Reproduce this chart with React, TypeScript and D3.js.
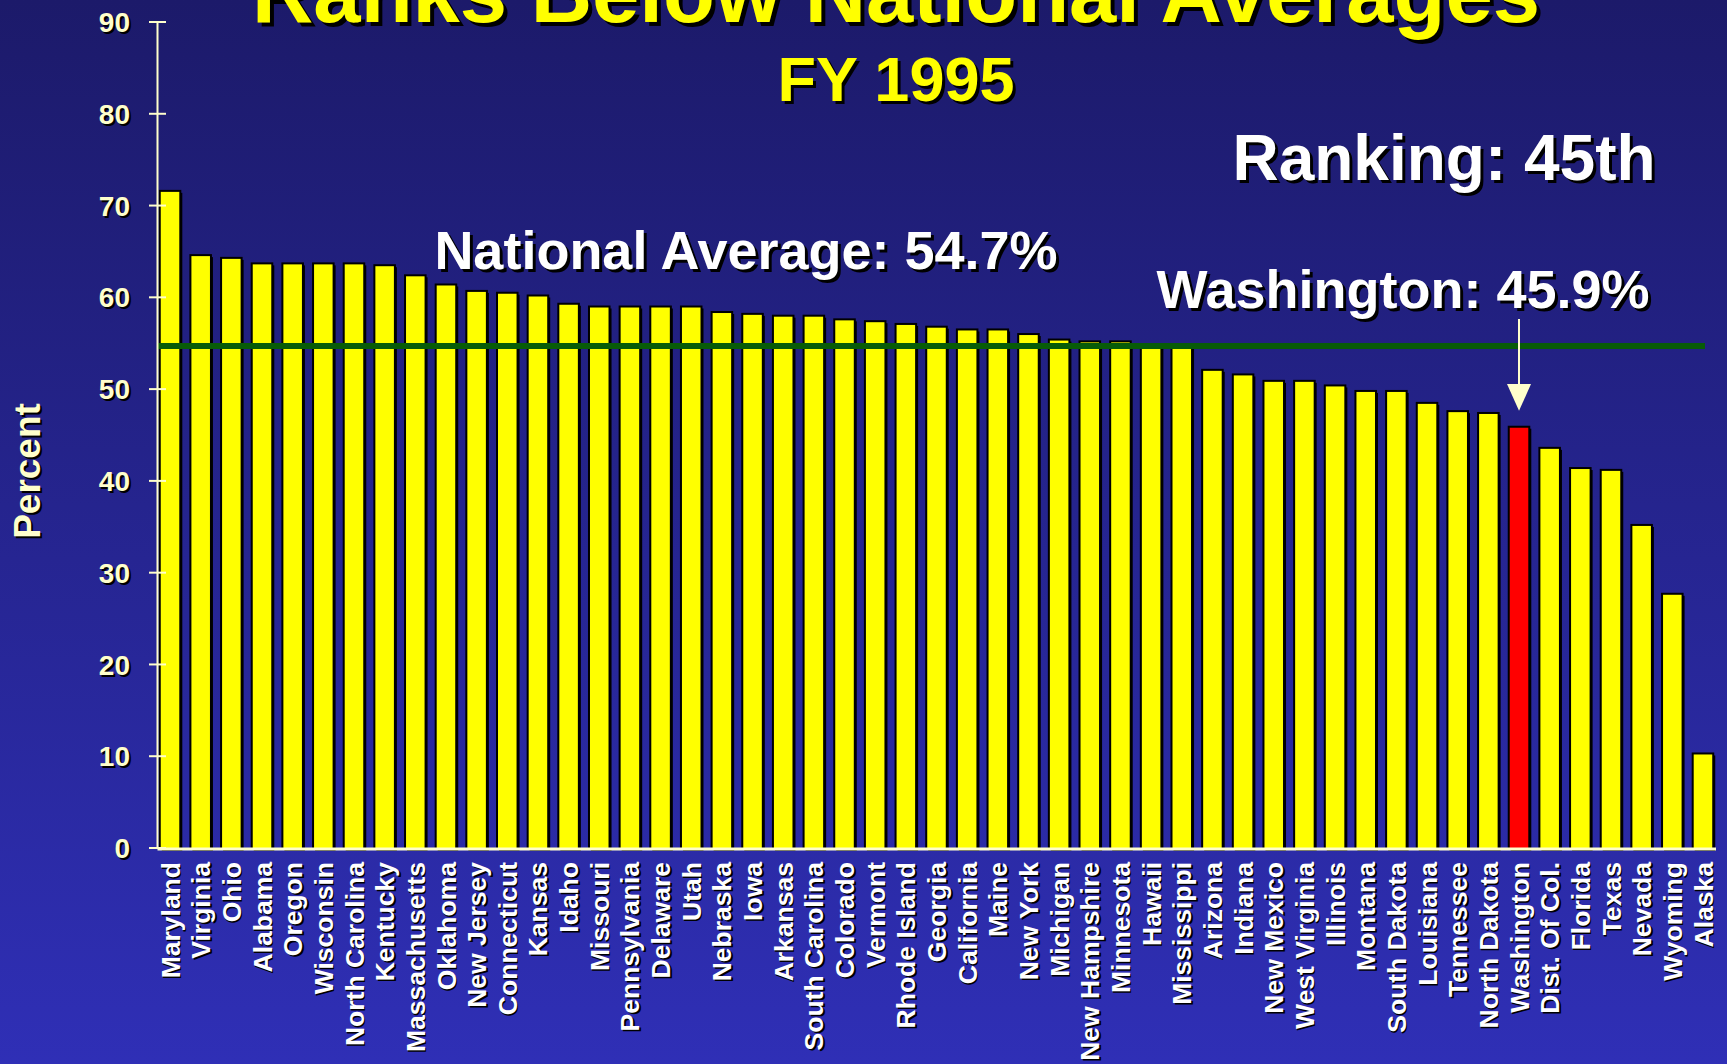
import React from 'react';
import * as d3 from 'd3';

const states = [
  'Maryland', 'Virginia', 'Ohio', 'Alabama', 'Oregon', 'Wisconsin', 'North Carolina', 'Kentucky',
  'Massachusetts', 'Oklahoma', 'New Jersey', 'Connecticut', 'Kansas', 'Idaho', 'Missouri',
  'Pennsylvania', 'Delaware', 'Utah', 'Nebraska', 'Iowa', 'Arkansas', 'South Carolina', 'Colorado',
  'Vermont', 'Rhode Island', 'Georgia', 'California', 'Maine', 'New York', 'Michigan',
  'New Hampshire', 'Minnesota', 'Hawaii', 'Mississippi', 'Arizona', 'Indiana', 'New Mexico',
  'West Virginia', 'Illinois', 'Montana', 'South Dakota', 'Louisiana', 'Tennessee', 'North Dakota',
  'Washington', 'Dist. Of Col.', 'Florida', 'Texas', 'Nevada', 'Wyoming', 'Alaska',
];

const percents = [
  71.6, 64.6, 64.3, 63.7, 63.7, 63.7, 63.7, 63.5,
  62.4, 61.4, 60.7, 60.5, 60.2, 59.3, 59.0,
  59.0, 59.0, 59.0, 58.4, 58.2, 58.0, 58.0, 57.6,
  57.4, 57.1, 56.8, 56.5, 56.5, 56.0, 55.4,
  55.2, 55.2, 54.7, 54.6, 52.1, 51.6, 50.9,
  50.9, 50.4, 49.8, 49.8, 48.5, 47.6, 47.4,
  45.9, 43.6, 41.4, 41.2, 35.2, 27.7, 10.3,
];

const yTickValues = [0, 10, 20, 30, 40, 50, 60, 70, 80, 90];
const nationalAverage = 54.7;
const highlightState = 'Washington';

const titleText = 'Ranks Below National Averages';
const subtitleText = 'FY 1995';
const rankingText = 'Ranking: 45th';
const averageText = 'National Average: 54.7%';
const highlightText = 'Washington: 45.9%';
const yAxisTitle = 'Percent';

const W = 1727;
const H = 1064;
const FONT = '"Liberation Sans", Arial, Helvetica, sans-serif';
const CREAM = '#ffffcc';

const x = d3.scaleBand<string>().domain(states).range([154.7, 1718.3]).paddingInner(0.33).paddingOuter(0.165);
const y = d3.scaleLinear().domain([0, 90]).range([848, 22]);

function ShadowText(props: any) {
  const { children, fill, shadow = 3, ...rest } = props;
  return (
    <g>
      <text {...rest} fill="#000" transform={`translate(${shadow},${shadow})${rest.transform ? ' ' + rest.transform : ''}`}>{children}</text>
      <text {...rest} fill={fill}>{children}</text>
    </g>
  );
}

export default function App() {
  const bw = x.bandwidth();
  const axisX = 157.5;
  const baseY = y(0) + 1;
  const hx = (x(highlightState) as number) + bw / 2;
  return (
    <svg width={W} height={H} style={{ position: 'absolute', left: 0, top: 0 }} fontFamily={FONT} fontWeight="bold">
      <defs>
        <linearGradient id="bg" x1="0" y1="0" x2="0" y2="1">
          <stop offset="0" stopColor="#1c1a6a" />
          <stop offset="1" stopColor="#2f2fb6" />
        </linearGradient>
      </defs>
      <rect x={0} y={0} width={W} height={H} fill="url(#bg)" />

      {/* Title */}
      <ShadowText x={896} y={22} fontSize={85} textAnchor="middle" fill="#ffff00" shadow={4}>{titleText}</ShadowText>
      <ShadowText x={896} y={101} fontSize={63} textAnchor="middle" fill="#ffff00" shadow={3}>{subtitleText}</ShadowText>
      <ShadowText x={1444} y={180} fontSize={64} textAnchor="middle" fill="#ffffff" shadow={3}>{rankingText}</ShadowText>

      {/* Bars */}
      {states.map((s, i) => {
        const bx = x(s) as number;
        const by = y(percents[i]);
        return (
          <g key={s}>
            <rect x={bx + 2} y={by + 2} width={bw} height={baseY - by} fill="#000" />
            <rect x={bx} y={by} width={bw} height={baseY - by} fill={s === highlightState ? '#ff0000' : '#ffff00'} stroke="#000" strokeWidth={2} />
          </g>
        );
      })}

      {/* National average line */}
      <line x1={axisX} x2={1705} y1={y(nationalAverage)} y2={y(nationalAverage)} stroke="#085c08" strokeWidth={6} />

      {/* Axes */}
      <line x1={axisX} x2={axisX} y1={y(90)} y2={baseY} stroke={CREAM} strokeWidth={2} />
      <line x1={axisX} x2={1716} y1={baseY} y2={baseY} stroke={CREAM} strokeWidth={3} />
      {yTickValues.map(t => (
        <g key={t}>
          <line x1={149} x2={166} y1={y(t)} y2={y(t)} stroke={CREAM} strokeWidth={2} />
          <ShadowText x={130} y={y(t)} dy="0.36em" fontSize={28} textAnchor="end" fill={CREAM} shadow={2}>{t}</ShadowText>
        </g>
      ))}
      <ShadowText x={0} y={0} transform={`translate(40,471) rotate(-90)`} fontSize={37} textAnchor="middle" fill={CREAM} shadow={2}>{yAxisTitle}</ShadowText>

      {/* Category labels */}
      {states.map(s => {
        const cx = (x(s) as number) + bw / 2;
        return (
          <ShadowText key={s} x={0} y={0} dy="0.36em" transform={`translate(${cx},862) rotate(-90)`} fontSize={26.5} textAnchor="end" fill="#ffffff" shadow={1.5}>{s}</ShadowText>
        );
      })}

      {/* Annotations */}
      <ShadowText x={746} y={269} fontSize={54} textAnchor="middle" fill="#ffffff" shadow={3}>{averageText}</ShadowText>
      <ShadowText x={1403} y={308} fontSize={54} textAnchor="middle" fill="#ffffff" shadow={3}>{highlightText}</ShadowText>
      <line x1={hx} x2={hx} y1={319} y2={392} stroke={CREAM} strokeWidth={2} />
      <polygon points={`${hx - 12},384 ${hx + 12},384 ${hx},${y(45.9) - 16}`} fill={CREAM} />
    </svg>
  );
}
